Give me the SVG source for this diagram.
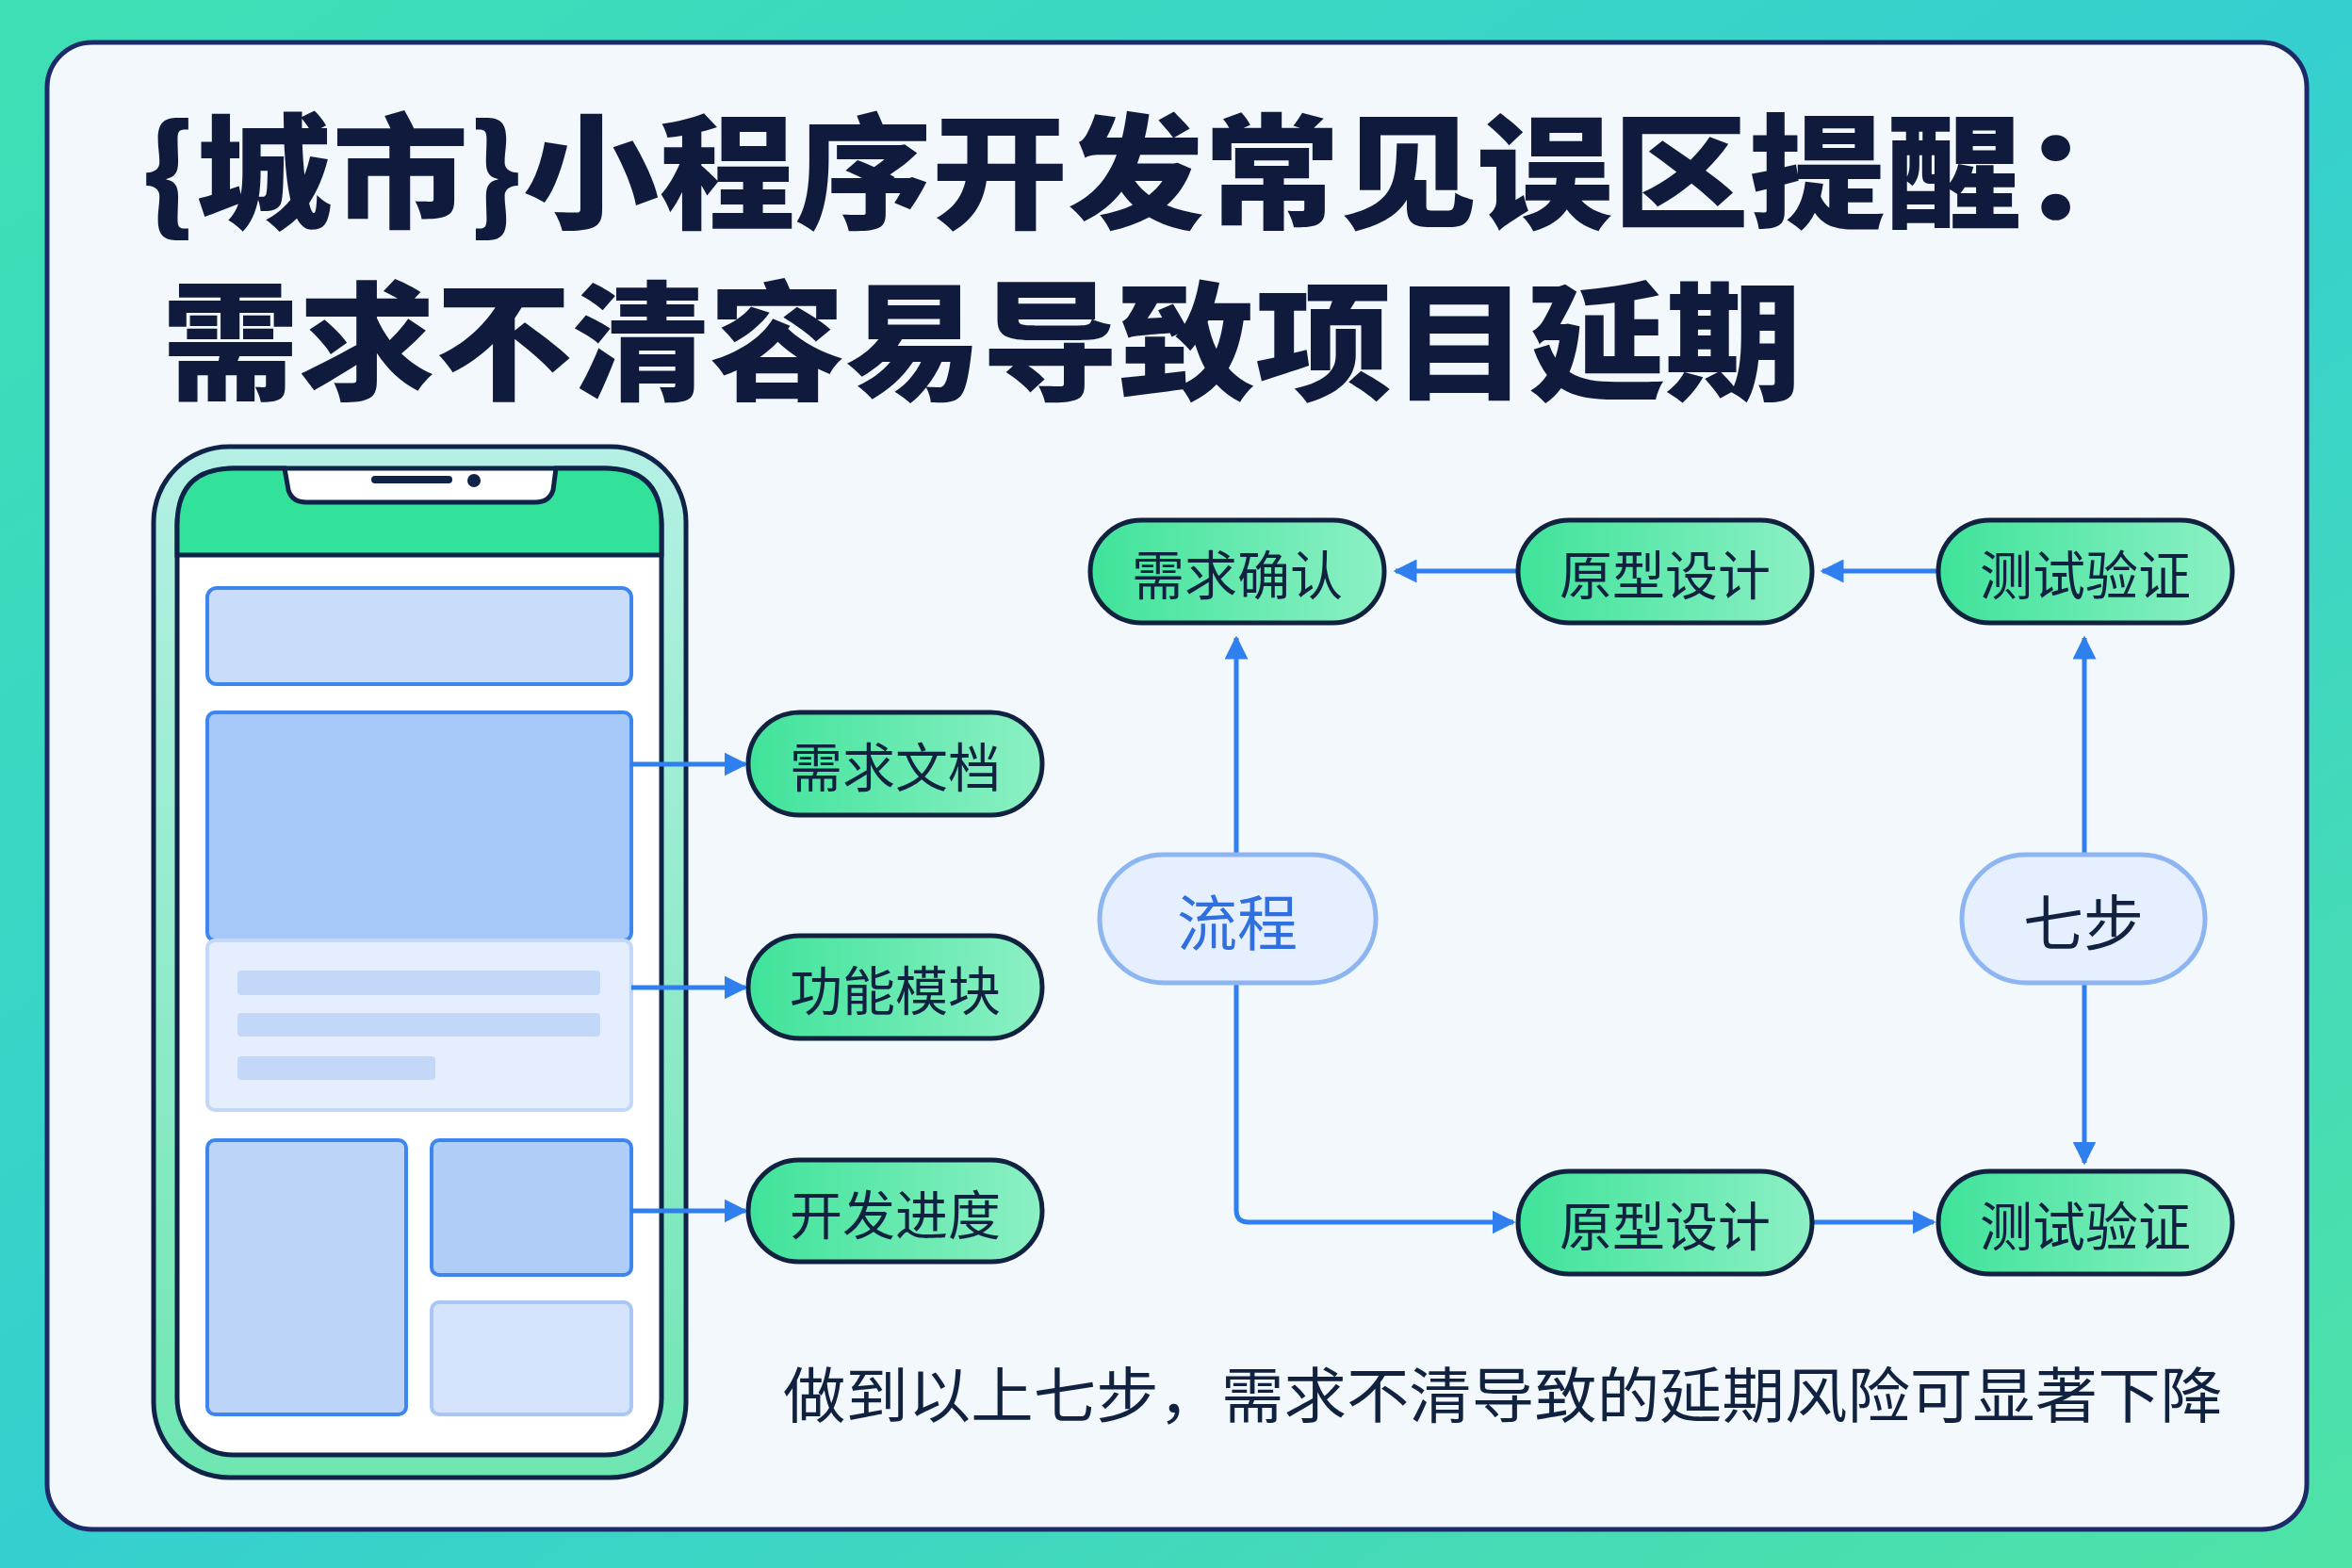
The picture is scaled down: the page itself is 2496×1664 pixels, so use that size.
<svg xmlns="http://www.w3.org/2000/svg" width="2496" height="1664" viewBox="0 0 2496 1664">
<defs>
<linearGradient id="bg" x1="0" y1="0" x2="1" y2="1"><stop offset="0" stop-color="#3fe0b4"/><stop offset="0.5" stop-color="#35cfd0"/><stop offset="1" stop-color="#4fe3a6"/></linearGradient>
<linearGradient id="pill" x1="0" y1="0" x2="1" y2="0"><stop offset="0" stop-color="#3fe39a"/><stop offset="1" stop-color="#8cf0c4"/></linearGradient>
<linearGradient id="phone" x1="0" y1="0" x2="0" y2="1"><stop offset="0" stop-color="#b4f0e4"/><stop offset="1" stop-color="#6fe6b2"/></linearGradient>
<marker id="ah" viewBox="0 0 10 10" refX="9" refY="5" markerWidth="5" markerHeight="5" orient="auto"><path d="M0,0 L10,5 L0,10 z" fill="#2f7fef"/></marker>
<style>
.pill{fill:url(#pill);stroke:#10223f;stroke-width:5}
.pt{font-family:"Noto Sans CJK SC",sans-serif;font-size:56px;fill:#10223f;text-anchor:middle;dominant-baseline:central}
.hub{fill:#e6effd;stroke:#8db5f2;stroke-width:5}
.ht{font-family:"Noto Sans CJK SC",sans-serif;font-size:64px;text-anchor:middle;dominant-baseline:central}
.ln{fill:none;stroke:#2f7fef;stroke-width:5;marker-end:url(#ah)}
.bx{stroke:#3d86ee;stroke-width:4}
</style>
</defs>
<rect width="2496" height="1664" fill="url(#bg)"/>
<rect x="50" y="45" width="2398" height="1578" rx="48" fill="#f3f8fc" stroke="#1d2a6a" stroke-width="5"/>
<g id="title" font-family="Noto Sans CJK SC,sans-serif" font-weight="900" fill="#0f1a3d">
<text x="150" y="232" font-size="132" textLength="2140" lengthAdjust="spacingAndGlyphs">{城市}小程序开发常见误区提醒：</text>
<text x="172" y="414" font-size="136" textLength="1740" lengthAdjust="spacingAndGlyphs">需求不清容易导致项目延期</text>
</g>
<g id="phone">
<rect x="163" y="474" width="565" height="1094" rx="80" fill="url(#phone)" stroke="#0f2348" stroke-width="5"/>
<rect x="188" y="497" width="514" height="1047" rx="60" fill="#ffffff" stroke="#0f2348" stroke-width="5"/>
<path d="M188,589 L188,557 Q188,497 248,497 L302,497 L306,520 Q310,533 325,533 L568,533 Q583,533 587,520 L590,497 L642,497 Q702,497 702,557 L702,589 Z" fill="#33e29a" stroke="#0f2348" stroke-width="5"/>
<line x1="398" y1="509" x2="476" y2="509" stroke="#0f2348" stroke-width="8" stroke-linecap="round"/>
<circle cx="503" cy="510" r="7" fill="#0f2348"/>
<rect class="bx" x="220" y="624" width="450" height="102" rx="10" fill="#c9ddfa"/>
<rect class="bx" x="220" y="756" width="450" height="242" rx="8" fill="#a5c8f8"/>
<rect x="220" y="998" width="450" height="180" rx="8" fill="#e4eefc" stroke="#c3d7f6" stroke-width="4"/>
<rect x="252" y="1030" width="385" height="26" rx="4" fill="#c3d8f8"/>
<rect x="252" y="1075" width="385" height="25" rx="4" fill="#c3d8f8"/>
<rect x="252" y="1121" width="210" height="25" rx="4" fill="#c3d8f8"/>
<rect class="bx" x="220" y="1210" width="211" height="291" rx="8" fill="#bcd4f8"/>
<rect class="bx" x="458" y="1210" width="212" height="143" rx="8" fill="#b0cdf8"/>
<rect x="458" y="1382" width="212" height="119" rx="8" fill="#d4e3fb" stroke="#a9c6f4" stroke-width="4"/>
</g>
<g id="connectors">
<line class="ln" x1="670" y1="811" x2="791" y2="811"/>
<line class="ln" x1="670" y1="1048" x2="791" y2="1048"/>
<line class="ln" x1="670" y1="1285" x2="791" y2="1285"/>
<line class="ln" x1="1611" y1="606" x2="1481" y2="606"/>
<line class="ln" x1="2057" y1="606" x2="1934" y2="606"/>
<line class="ln" x1="1312" y1="907" x2="1312" y2="677"/>
<path class="ln" d="M1312,1043 L1312,1284 Q1312,1297 1325,1297 L1606,1297"/>
<line class="ln" x1="1923" y1="1297" x2="2052" y2="1297"/>
<line class="ln" x1="2212" y1="907" x2="2212" y2="677"/>
<line class="ln" x1="2212" y1="1043" x2="2212" y2="1234"/>
</g>
<g id="n-doc"><rect class="pill" x="794" y="756" width="312" height="109" rx="54.5"/><text class="pt" x="950" y="810">需求文档</text></g>
<g id="n-func"><rect class="pill" x="794" y="993" width="312" height="109" rx="54.5"/><text class="pt" x="950" y="1047">功能模块</text></g>
<g id="n-prog"><rect class="pill" x="794" y="1231" width="312" height="108" rx="54"/><text class="pt" x="950" y="1285">开发进度</text></g>
<g id="n-req"><rect class="pill" x="1157" y="552" width="312" height="109" rx="54.5"/><text class="pt" x="1313" y="606">需求确认</text></g>
<g id="n-proto1"><rect class="pill" x="1611" y="552" width="312" height="109" rx="54.5"/><text class="pt" x="1767" y="606">原型设计</text></g>
<g id="n-test1"><rect class="pill" x="2057" y="552" width="312" height="109" rx="54.5"/><text class="pt" x="2213" y="606">测试验证</text></g>
<g id="n-proto2"><rect class="pill" x="1611" y="1243" width="312" height="109" rx="54.5"/><text class="pt" x="1767" y="1297">原型设计</text></g>
<g id="n-test2"><rect class="pill" x="2057" y="1243" width="312" height="109" rx="54.5"/><text class="pt" x="2213" y="1297">测试验证</text></g>
<g id="n-flow"><rect class="hub" x="1167" y="907" width="293" height="136" rx="68"/><text class="ht" x="1313" y="975" fill="#2f6fe0">流程</text></g>
<g id="n-seven"><rect class="hub" x="2082" y="907" width="258" height="136" rx="68" fill="#eef5fb"/><text class="ht" x="2211" y="975" fill="#10223f">七步</text></g>
<text x="831" y="1504" font-family="Noto Sans CJK SC,sans-serif" font-size="64" fill="#10223f" textLength="1528" lengthAdjust="spacingAndGlyphs">做到以上七步，需求不清导致的延期风险可显著下降</text>
</svg>
